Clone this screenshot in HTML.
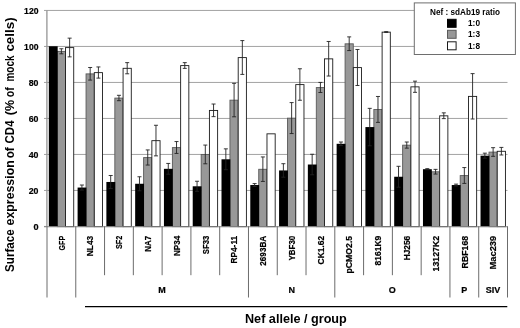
<!DOCTYPE html>
<html><head><meta charset="utf-8"><title>Nef allele chart</title>
<style>html,body{margin:0;padding:0;background:#fff}body{width:520px;height:328px;overflow:hidden}</style></head>
<body>
<svg width="520" height="328" viewBox="0 0 520 328" style="display:block;font-family:'Liberation Sans',sans-serif;font-weight:bold">
<rect width="520" height="328" fill="#fff"/>
<line x1="46.5" y1="190.45" x2="507.5" y2="190.45" stroke="#8c8c8c" stroke-width="0.8"/>
<line x1="46.5" y1="154.45" x2="507.5" y2="154.45" stroke="#8c8c8c" stroke-width="0.8"/>
<line x1="46.5" y1="118.44999999999999" x2="507.5" y2="118.44999999999999" stroke="#8c8c8c" stroke-width="0.8"/>
<line x1="46.5" y1="82.44999999999999" x2="507.5" y2="82.44999999999999" stroke="#8c8c8c" stroke-width="0.8"/>
<line x1="46.5" y1="46.44999999999999" x2="507.5" y2="46.44999999999999" stroke="#8c8c8c" stroke-width="0.8"/>
<line x1="46.5" y1="10.449999999999989" x2="507.5" y2="10.449999999999989" stroke="#8c8c8c" stroke-width="0.8"/>
<line x1="46.9" y1="10.25" x2="46.9" y2="226.25" stroke="#959595" stroke-width="1.3"/>
<line x1="44.0" y1="226.45" x2="46.5" y2="226.45" stroke="#8a8a8a" stroke-width="0.8"/>
<text x="38.5" y="229.75" font-size="9.4" text-anchor="end" fill="#000" stroke="#000" stroke-width="0.2" textLength="5.1" lengthAdjust="spacingAndGlyphs">0</text>
<line x1="44.0" y1="190.45" x2="46.5" y2="190.45" stroke="#8a8a8a" stroke-width="0.8"/>
<text x="38.5" y="193.75" font-size="9.4" text-anchor="end" fill="#000" stroke="#000" stroke-width="0.2" textLength="9.8" lengthAdjust="spacingAndGlyphs">20</text>
<line x1="44.0" y1="154.45" x2="46.5" y2="154.45" stroke="#8a8a8a" stroke-width="0.8"/>
<text x="38.5" y="157.75" font-size="9.4" text-anchor="end" fill="#000" stroke="#000" stroke-width="0.2" textLength="9.8" lengthAdjust="spacingAndGlyphs">40</text>
<line x1="44.0" y1="118.44999999999999" x2="46.5" y2="118.44999999999999" stroke="#8a8a8a" stroke-width="0.8"/>
<text x="38.5" y="121.75" font-size="9.4" text-anchor="end" fill="#000" stroke="#000" stroke-width="0.2" textLength="9.8" lengthAdjust="spacingAndGlyphs">60</text>
<line x1="44.0" y1="82.44999999999999" x2="46.5" y2="82.44999999999999" stroke="#8a8a8a" stroke-width="0.8"/>
<text x="38.5" y="85.75" font-size="9.4" text-anchor="end" fill="#000" stroke="#000" stroke-width="0.2" textLength="9.8" lengthAdjust="spacingAndGlyphs">80</text>
<line x1="44.0" y1="46.44999999999999" x2="46.5" y2="46.44999999999999" stroke="#8a8a8a" stroke-width="0.8"/>
<text x="38.5" y="49.75" font-size="9.4" text-anchor="end" fill="#000" stroke="#000" stroke-width="0.2" textLength="14.4" lengthAdjust="spacingAndGlyphs">100</text>
<line x1="44.0" y1="10.449999999999989" x2="46.5" y2="10.449999999999989" stroke="#8a8a8a" stroke-width="0.8"/>
<text x="38.5" y="13.75" font-size="9.4" text-anchor="end" fill="#000" stroke="#000" stroke-width="0.2" textLength="14.4" lengthAdjust="spacingAndGlyphs">120</text>
<rect x="57.27" y="51.39" width="8.20" height="175.26" fill="#989898" stroke="#5a5a5a" stroke-width="0.9"/>
<rect x="48.82" y="46.25" width="8.85" height="180.30" fill="#000"/>
<rect x="65.52" y="47.61" width="8.20" height="179.04" fill="#fff" stroke="#1a1a1a" stroke-width="0.9"/>
<path d="M61.39 48.77V53.81M59.39 48.77H63.39M59.39 53.81H63.39" stroke="#222" stroke-width="0.9" fill="none"/>
<path d="M69.64 38.15V56.87M67.64 38.15H71.64M67.64 56.87H71.64" stroke="#222" stroke-width="0.9" fill="none"/>
<rect x="86.05" y="73.89" width="8.20" height="152.76" fill="#989898" stroke="#5a5a5a" stroke-width="0.9"/>
<rect x="77.60" y="187.55" width="8.85" height="39.00" fill="#000"/>
<rect x="94.30" y="72.63" width="8.20" height="154.02" fill="#fff" stroke="#1a1a1a" stroke-width="0.9"/>
<path d="M81.92 185.03V190.07M79.92 185.03H83.92M79.92 190.07H83.92" stroke="#222" stroke-width="0.9" fill="none"/>
<path d="M90.17 67.49V80.09M88.17 67.49H92.17M88.17 80.09H92.17" stroke="#222" stroke-width="0.9" fill="none"/>
<path d="M98.42 66.95V78.11M96.42 66.95H100.42M96.42 78.11H100.42" stroke="#222" stroke-width="0.9" fill="none"/>
<rect x="114.83" y="98.10" width="8.20" height="128.55" fill="#989898" stroke="#5a5a5a" stroke-width="0.9"/>
<rect x="106.38" y="181.97" width="8.85" height="44.58" fill="#000"/>
<rect x="123.08" y="68.31" width="8.20" height="158.34" fill="#fff" stroke="#1a1a1a" stroke-width="0.9"/>
<path d="M110.70 175.49V188.45M108.70 175.49H112.70M108.70 188.45H112.70" stroke="#222" stroke-width="0.9" fill="none"/>
<path d="M118.95 95.30V100.70M116.95 95.30H120.95M116.95 100.70H120.95" stroke="#222" stroke-width="0.9" fill="none"/>
<path d="M127.20 62.63V73.79M125.20 62.63H129.20M125.20 73.79H129.20" stroke="#222" stroke-width="0.9" fill="none"/>
<rect x="143.61" y="157.59" width="8.20" height="69.06" fill="#989898" stroke="#5a5a5a" stroke-width="0.9"/>
<rect x="135.16" y="183.77" width="8.85" height="42.78" fill="#000"/>
<rect x="151.86" y="140.67" width="8.20" height="85.98" fill="#fff" stroke="#1a1a1a" stroke-width="0.9"/>
<path d="M139.48 176.75V190.79M137.48 176.75H141.48M137.48 190.79H141.48" stroke="#222" stroke-width="0.9" fill="none"/>
<path d="M147.73 149.93V165.05M145.73 149.93H149.73M145.73 165.05H149.73" stroke="#222" stroke-width="0.9" fill="none"/>
<path d="M155.98 125.27V155.87M153.98 125.27H157.98M153.98 155.87H157.98" stroke="#222" stroke-width="0.9" fill="none"/>
<rect x="172.39" y="147.60" width="8.20" height="79.05" fill="#989898" stroke="#5a5a5a" stroke-width="0.9"/>
<rect x="163.94" y="168.83" width="8.85" height="57.72" fill="#000"/>
<rect x="180.64" y="65.61" width="8.20" height="161.04" fill="#fff" stroke="#1a1a1a" stroke-width="0.9"/>
<path d="M168.27 163.43V174.23M166.27 163.43H170.27M166.27 174.23H170.27" stroke="#222" stroke-width="0.9" fill="none"/>
<path d="M176.52 141.56V153.44M174.52 141.56H178.52M174.52 153.44H178.52" stroke="#222" stroke-width="0.9" fill="none"/>
<path d="M184.77 62.63V68.39M182.77 62.63H186.77M182.77 68.39H186.77" stroke="#222" stroke-width="0.9" fill="none"/>
<rect x="201.17" y="154.53" width="8.20" height="72.12" fill="#989898" stroke="#5a5a5a" stroke-width="0.9"/>
<rect x="192.72" y="186.29" width="8.85" height="40.26" fill="#000"/>
<rect x="209.42" y="110.43" width="8.20" height="116.22" fill="#fff" stroke="#1a1a1a" stroke-width="0.9"/>
<path d="M197.05 181.25V191.33M195.05 181.25H199.05M195.05 191.33H199.05" stroke="#222" stroke-width="0.9" fill="none"/>
<path d="M205.30 145.07V163.79M203.30 145.07H207.30M203.30 163.79H207.30" stroke="#222" stroke-width="0.9" fill="none"/>
<path d="M213.55 104.03V116.63M211.55 104.03H215.55M211.55 116.63H215.55" stroke="#222" stroke-width="0.9" fill="none"/>
<rect x="229.95" y="100.17" width="8.20" height="126.48" fill="#989898" stroke="#5a5a5a" stroke-width="0.9"/>
<rect x="221.50" y="159.29" width="8.85" height="67.26" fill="#000"/>
<rect x="238.20" y="57.60" width="8.20" height="169.05" fill="#fff" stroke="#1a1a1a" stroke-width="0.9"/>
<path d="M225.83 148.85V169.73M223.83 148.85H227.83M223.83 169.73H227.83" stroke="#222" stroke-width="0.9" fill="none"/>
<path d="M234.08 83.33V116.81M232.08 83.33H236.08M232.08 116.81H236.08" stroke="#222" stroke-width="0.9" fill="none"/>
<path d="M242.33 40.58V74.42M240.33 40.58H244.33M240.33 74.42H244.33" stroke="#222" stroke-width="0.9" fill="none"/>
<rect x="258.73" y="169.29" width="8.20" height="57.36" fill="#989898" stroke="#5a5a5a" stroke-width="0.9"/>
<rect x="250.28" y="185.03" width="8.85" height="41.52" fill="#000"/>
<rect x="266.98" y="133.83" width="8.20" height="92.82" fill="#fff" stroke="#1a1a1a" stroke-width="0.9"/>
<path d="M254.61 183.59V186.47M252.61 183.59H256.61M252.61 186.47H256.61" stroke="#222" stroke-width="0.9" fill="none"/>
<path d="M262.86 156.95V181.43M260.86 156.95H264.86M260.86 181.43H264.86" stroke="#222" stroke-width="0.9" fill="none"/>
<rect x="287.52" y="118.17" width="8.20" height="108.48" fill="#989898" stroke="#5a5a5a" stroke-width="0.9"/>
<rect x="279.07" y="170.45" width="8.85" height="56.10" fill="#000"/>
<rect x="295.77" y="84.60" width="8.20" height="142.05" fill="#fff" stroke="#1a1a1a" stroke-width="0.9"/>
<path d="M283.39 163.70V177.20M281.39 163.70H285.39M281.39 177.20H285.39" stroke="#222" stroke-width="0.9" fill="none"/>
<path d="M291.64 102.59V133.55M289.64 102.59H293.64M289.64 133.55H293.64" stroke="#222" stroke-width="0.9" fill="none"/>
<path d="M299.89 68.75V100.25M297.89 68.75H301.89M297.89 100.25H301.89" stroke="#222" stroke-width="0.9" fill="none"/>
<rect x="316.30" y="87.57" width="8.20" height="139.08" fill="#989898" stroke="#5a5a5a" stroke-width="0.9"/>
<rect x="307.85" y="164.51" width="8.85" height="62.04" fill="#000"/>
<rect x="324.55" y="58.86" width="8.20" height="167.79" fill="#fff" stroke="#1a1a1a" stroke-width="0.9"/>
<path d="M312.17 154.25V174.77M310.17 154.25H314.17M310.17 174.77H314.17" stroke="#222" stroke-width="0.9" fill="none"/>
<path d="M320.42 82.43V92.51M318.42 82.43H322.42M318.42 92.51H322.42" stroke="#222" stroke-width="0.9" fill="none"/>
<path d="M328.67 41.48V76.04M326.67 41.48H330.67M326.67 76.04H330.67" stroke="#222" stroke-width="0.9" fill="none"/>
<rect x="345.08" y="43.83" width="8.20" height="182.82" fill="#989898" stroke="#5a5a5a" stroke-width="0.9"/>
<rect x="336.63" y="143.81" width="8.85" height="82.74" fill="#000"/>
<rect x="353.33" y="67.59" width="8.20" height="159.06" fill="#fff" stroke="#1a1a1a" stroke-width="0.9"/>
<path d="M340.95 142.01V145.61M338.95 142.01H342.95M338.95 145.61H342.95" stroke="#222" stroke-width="0.9" fill="none"/>
<path d="M349.20 36.89V50.57M347.20 36.89H351.20M347.20 50.57H351.20" stroke="#222" stroke-width="0.9" fill="none"/>
<path d="M357.45 49.49V85.49M355.45 49.49H359.45M355.45 85.49H359.45" stroke="#222" stroke-width="0.9" fill="none"/>
<rect x="373.86" y="109.53" width="8.20" height="117.12" fill="#989898" stroke="#5a5a5a" stroke-width="0.9"/>
<rect x="365.41" y="127.07" width="8.85" height="99.48" fill="#000"/>
<rect x="382.11" y="32.13" width="8.20" height="194.52" fill="#fff" stroke="#1a1a1a" stroke-width="0.9"/>
<path d="M369.73 108.35V145.79M367.73 108.35H371.73M367.73 145.79H371.73" stroke="#222" stroke-width="0.9" fill="none"/>
<path d="M377.98 96.47V122.39M375.98 96.47H379.98M375.98 122.39H379.98" stroke="#222" stroke-width="0.9" fill="none"/>
<path d="M386.23 31.67V32.39M384.23 31.67H388.23M384.23 32.39H388.23" stroke="#222" stroke-width="0.9" fill="none"/>
<rect x="402.64" y="145.17" width="8.20" height="81.48" fill="#989898" stroke="#5a5a5a" stroke-width="0.9"/>
<rect x="394.19" y="176.75" width="8.85" height="49.80" fill="#000"/>
<rect x="410.89" y="86.85" width="8.20" height="139.80" fill="#fff" stroke="#1a1a1a" stroke-width="0.9"/>
<path d="M398.52 166.31V187.19M396.52 166.31H400.52M396.52 187.19H400.52" stroke="#222" stroke-width="0.9" fill="none"/>
<path d="M406.77 142.01V148.13M404.77 142.01H408.77M404.77 148.13H408.77" stroke="#222" stroke-width="0.9" fill="none"/>
<path d="M415.02 81.17V92.33M413.02 81.17H417.02M413.02 92.33H417.02" stroke="#222" stroke-width="0.9" fill="none"/>
<rect x="431.42" y="171.81" width="8.20" height="54.84" fill="#989898" stroke="#5a5a5a" stroke-width="0.9"/>
<rect x="422.97" y="169.19" width="8.85" height="57.36" fill="#000"/>
<rect x="439.67" y="115.83" width="8.20" height="110.82" fill="#fff" stroke="#1a1a1a" stroke-width="0.9"/>
<path d="M427.30 168.65V169.73M425.30 168.65H429.30M425.30 169.73H429.30" stroke="#222" stroke-width="0.9" fill="none"/>
<path d="M435.55 169.37V174.05M433.55 169.37H437.55M433.55 174.05H437.55" stroke="#222" stroke-width="0.9" fill="none"/>
<path d="M443.80 112.85V118.61M441.80 112.85H445.80M441.80 118.61H445.80" stroke="#222" stroke-width="0.9" fill="none"/>
<rect x="460.20" y="175.59" width="8.20" height="51.06" fill="#989898" stroke="#5a5a5a" stroke-width="0.9"/>
<rect x="451.75" y="185.03" width="8.85" height="41.52" fill="#000"/>
<rect x="468.45" y="96.39" width="8.20" height="130.26" fill="#fff" stroke="#1a1a1a" stroke-width="0.9"/>
<path d="M456.08 184.13V185.93M454.08 184.13H458.08M454.08 185.93H458.08" stroke="#222" stroke-width="0.9" fill="none"/>
<path d="M464.33 167.57V183.41M462.33 167.57H466.33M462.33 183.41H466.33" stroke="#222" stroke-width="0.9" fill="none"/>
<path d="M472.58 73.61V118.97M470.58 73.61H474.58M470.58 118.97H474.58" stroke="#222" stroke-width="0.9" fill="none"/>
<rect x="488.98" y="152.10" width="8.20" height="74.55" fill="#989898" stroke="#5a5a5a" stroke-width="0.9"/>
<rect x="480.53" y="155.69" width="8.85" height="70.86" fill="#000"/>
<rect x="497.23" y="151.29" width="8.20" height="75.36" fill="#fff" stroke="#1a1a1a" stroke-width="0.9"/>
<path d="M484.86 153.17V158.21M482.86 153.17H486.86M482.86 158.21H486.86" stroke="#222" stroke-width="0.9" fill="none"/>
<path d="M493.11 147.68V156.32M491.11 147.68H495.11M491.11 156.32H495.11" stroke="#222" stroke-width="0.9" fill="none"/>
<path d="M501.36 147.41V154.97M499.36 147.41H503.36M499.36 154.97H503.36" stroke="#222" stroke-width="0.9" fill="none"/>
<line x1="44.0" y1="226.75" x2="507.5" y2="226.75" stroke="#858585" stroke-width="1.2"/>
<line x1="47.00" y1="226.25" x2="47.00" y2="297.5" stroke="#6c6c6c" stroke-width="1"/>
<line x1="75.78" y1="226.25" x2="75.78" y2="297.5" stroke="#6c6c6c" stroke-width="1"/>
<line x1="104.56" y1="226.25" x2="104.56" y2="275.2" stroke="#6c6c6c" stroke-width="1"/>
<line x1="133.34" y1="226.25" x2="133.34" y2="275.2" stroke="#6c6c6c" stroke-width="1"/>
<line x1="162.12" y1="226.25" x2="162.12" y2="275.2" stroke="#6c6c6c" stroke-width="1"/>
<line x1="190.91" y1="226.25" x2="190.91" y2="275.2" stroke="#6c6c6c" stroke-width="1"/>
<line x1="219.69" y1="226.25" x2="219.69" y2="275.2" stroke="#6c6c6c" stroke-width="1"/>
<line x1="248.47" y1="226.25" x2="248.47" y2="297.5" stroke="#6c6c6c" stroke-width="1"/>
<line x1="277.25" y1="226.25" x2="277.25" y2="275.2" stroke="#6c6c6c" stroke-width="1"/>
<line x1="306.03" y1="226.25" x2="306.03" y2="275.2" stroke="#6c6c6c" stroke-width="1"/>
<line x1="334.81" y1="226.25" x2="334.81" y2="297.5" stroke="#6c6c6c" stroke-width="1"/>
<line x1="363.59" y1="226.25" x2="363.59" y2="275.2" stroke="#6c6c6c" stroke-width="1"/>
<line x1="392.38" y1="226.25" x2="392.38" y2="275.2" stroke="#6c6c6c" stroke-width="1"/>
<line x1="421.16" y1="226.25" x2="421.16" y2="275.2" stroke="#6c6c6c" stroke-width="1"/>
<line x1="449.94" y1="226.25" x2="449.94" y2="297.5" stroke="#6c6c6c" stroke-width="1"/>
<line x1="478.72" y1="226.25" x2="478.72" y2="297.5" stroke="#6c6c6c" stroke-width="1"/>
<line x1="507.50" y1="226.25" x2="507.50" y2="297.5" stroke="#6c6c6c" stroke-width="1"/>
<text transform="translate(64.59 235.8) rotate(-90)" font-size="9" text-anchor="end" fill="#000" stroke="#000" stroke-width="0.2" textLength="14.6" lengthAdjust="spacingAndGlyphs">GFP</text>
<text transform="translate(93.37 235.8) rotate(-90)" font-size="9" text-anchor="end" fill="#000" stroke="#000" stroke-width="0.2" textLength="20.4" lengthAdjust="spacingAndGlyphs">NL43</text>
<text transform="translate(122.15 235.8) rotate(-90)" font-size="9" text-anchor="end" fill="#000" stroke="#000" stroke-width="0.2" textLength="13.3" lengthAdjust="spacingAndGlyphs">SF2</text>
<text transform="translate(150.93 235.8) rotate(-90)" font-size="9" text-anchor="end" fill="#000" stroke="#000" stroke-width="0.2" textLength="15.9" lengthAdjust="spacingAndGlyphs">NA7</text>
<text transform="translate(179.72 235.8) rotate(-90)" font-size="9" text-anchor="end" fill="#000" stroke="#000" stroke-width="0.2" textLength="20.2" lengthAdjust="spacingAndGlyphs">NP34</text>
<text transform="translate(208.50 235.8) rotate(-90)" font-size="9" text-anchor="end" fill="#000" stroke="#000" stroke-width="0.2" textLength="18.4" lengthAdjust="spacingAndGlyphs">SF33</text>
<text transform="translate(237.28 235.8) rotate(-90)" font-size="9" text-anchor="end" fill="#000" stroke="#000" stroke-width="0.2" textLength="27.8" lengthAdjust="spacingAndGlyphs">RP4-11</text>
<text transform="translate(266.06 235.8) rotate(-90)" font-size="9" text-anchor="end" fill="#000" stroke="#000" stroke-width="0.2" textLength="29.9" lengthAdjust="spacingAndGlyphs">2693BA</text>
<text transform="translate(294.84 235.8) rotate(-90)" font-size="9" text-anchor="end" fill="#000" stroke="#000" stroke-width="0.2" textLength="24.7" lengthAdjust="spacingAndGlyphs">YBF30</text>
<text transform="translate(323.62 235.8) rotate(-90)" font-size="9" text-anchor="end" fill="#000" stroke="#000" stroke-width="0.2" textLength="28.6" lengthAdjust="spacingAndGlyphs">CK1.62</text>
<text transform="translate(352.40 235.8) rotate(-90)" font-size="9" text-anchor="end" fill="#000" stroke="#000" stroke-width="0.2" textLength="37.7" lengthAdjust="spacingAndGlyphs">pCMO2.5</text>
<text transform="translate(381.18 235.8) rotate(-90)" font-size="9" text-anchor="end" fill="#000" stroke="#000" stroke-width="0.2" textLength="29.6" lengthAdjust="spacingAndGlyphs">8161K9</text>
<text transform="translate(409.97 235.8) rotate(-90)" font-size="9" text-anchor="end" fill="#000" stroke="#000" stroke-width="0.2" textLength="24.5" lengthAdjust="spacingAndGlyphs">HJ256</text>
<text transform="translate(438.75 235.8) rotate(-90)" font-size="9" text-anchor="end" fill="#000" stroke="#000" stroke-width="0.2" textLength="35.7" lengthAdjust="spacingAndGlyphs">13127K2</text>
<text transform="translate(467.53 235.8) rotate(-90)" font-size="9" text-anchor="end" fill="#000" stroke="#000" stroke-width="0.2" textLength="32.6" lengthAdjust="spacingAndGlyphs">RBF168</text>
<text transform="translate(496.31 235.8) rotate(-90)" font-size="9" text-anchor="end" fill="#000" stroke="#000" stroke-width="0.2" textLength="33.7" lengthAdjust="spacingAndGlyphs">Mac239</text>
<text x="162.12" y="293" font-size="9" text-anchor="middle" fill="#000" stroke="#000" stroke-width="0.2">M</text>
<text x="291.64" y="293" font-size="9" text-anchor="middle" fill="#000" stroke="#000" stroke-width="0.2">N</text>
<text x="392.38" y="293" font-size="9" text-anchor="middle" fill="#000" stroke="#000" stroke-width="0.2">O</text>
<text x="464.33" y="293" font-size="9" text-anchor="middle" fill="#000" stroke="#000" stroke-width="0.2">P</text>
<text x="493.11" y="293" font-size="9" text-anchor="middle" fill="#000" stroke="#000" stroke-width="0.2">SIV</text>
<line x1="85" y1="306.6" x2="507.3" y2="306.6" stroke="#000" stroke-width="1.2"/>
<text id="xt" x="295.9" y="322.5" font-size="12.6" text-anchor="middle" fill="#000" textLength="101.8" lengthAdjust="spacingAndGlyphs">Nef allele / group</text>
<text transform="translate(14.3 271.9) rotate(-90)" font-size="12.6" fill="#000" textLength="42.6" lengthAdjust="spacingAndGlyphs">Surface</text>
<text transform="translate(14.3 225.4) rotate(-90)" font-size="12.6" fill="#000" textLength="65.1" lengthAdjust="spacingAndGlyphs">expression</text>
<text transform="translate(14.3 158.3) rotate(-90)" font-size="12.6" fill="#000" textLength="11.0" lengthAdjust="spacingAndGlyphs">of</text>
<text transform="translate(14.3 143.4) rotate(-90)" font-size="12.6" fill="#000" textLength="22.9" lengthAdjust="spacingAndGlyphs">CD4</text>
<text transform="translate(14.3 115.2) rotate(-90)" font-size="12.6" fill="#000" textLength="15.4" lengthAdjust="spacingAndGlyphs">(%</text>
<text transform="translate(14.3 97.3) rotate(-90)" font-size="12.6" fill="#000" textLength="10.0" lengthAdjust="spacingAndGlyphs">of</text>
<text transform="translate(14.3 81.6) rotate(-90)" font-size="12.6" fill="#000" textLength="26.1" lengthAdjust="spacingAndGlyphs">mock</text>
<text transform="translate(14.3 51.6) rotate(-90)" font-size="12.6" fill="#000" textLength="34.2" lengthAdjust="spacingAndGlyphs">cells)</text>
<rect x="414.3" y="2.9" width="101.1" height="51.6" fill="#fff" stroke="#6e6e6e" stroke-width="1"/>
<text x="465" y="14.5" font-size="9" text-anchor="middle" fill="#000" textLength="70" lengthAdjust="spacingAndGlyphs">Nef : sdAb19 ratio</text>
<rect x="447.5" y="19.3" width="8.6" height="8.0" fill="#000" stroke="#000" stroke-width="1"/>
<text x="468" y="26.20" font-size="9" fill="#000" textLength="12" lengthAdjust="spacingAndGlyphs">1:0</text>
<rect x="447.5" y="30.3" width="8.6" height="8.0" fill="#989898" stroke="#5a5a5a" stroke-width="1"/>
<text x="468" y="37.20" font-size="9" fill="#000" textLength="12" lengthAdjust="spacingAndGlyphs">1:3</text>
<rect x="447.5" y="41.8" width="8.6" height="8.0" fill="#fff" stroke="#1a1a1a" stroke-width="1"/>
<text x="468" y="48.70" font-size="9" fill="#000" textLength="12" lengthAdjust="spacingAndGlyphs">1:8</text>
</svg>
</body></html>
